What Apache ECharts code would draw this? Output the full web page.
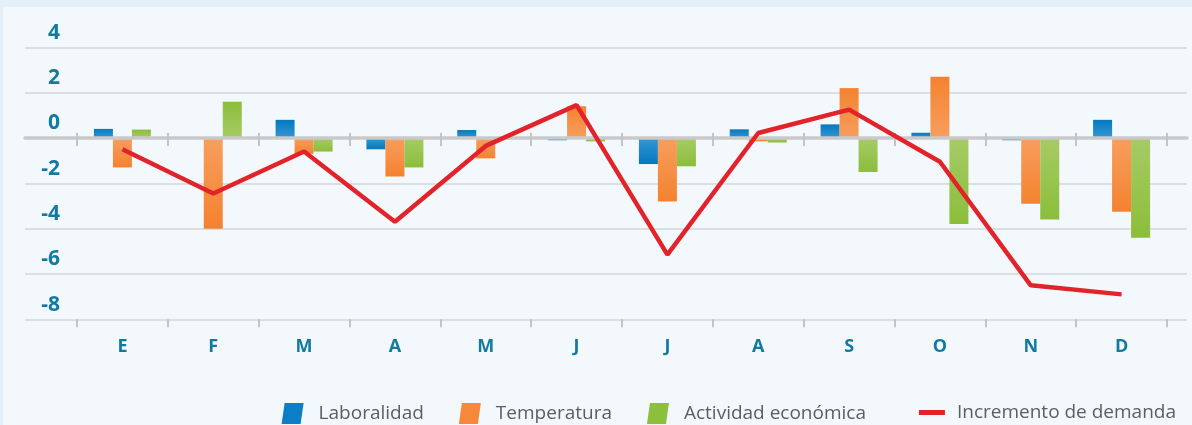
<!DOCTYPE html>
<html>
<head>
<meta charset="utf-8">
<script src="https://cdn.jsdelivr.net/npm/echarts@6/dist/echarts.min.js"></script>
<style>
  html, body { margin: 0; padding: 0; background: #e3eff9; }
  #chart { width: 1192px; height: 425px; }
</style>
</head>
<body>
<div id="chart"></div>
<script>
// datos
const months = ['E', 'F', 'M', 'A', 'M', 'J', 'J', 'A', 'S', 'O', 'N', 'D']
const laboralidad = [0.4, 0, 0.8, -0.5, 0.35, -0.1, -1.15, 0.38, 0.6, 0.23, -0.1, 0.8]
const temperatura = [-1.3, -4.0, -0.7, -1.7, -0.9, 1.4, -2.8, -0.15, 2.2, 2.7, -2.9, -3.25]
const actividad = [0.37, 1.6, -0.6, -1.3, 0, -0.15, -1.25, -0.2, -1.5, -3.8, -3.6, -4.4]
const demanda = [-0.5, -2.45, -0.6, -3.7, -0.35, 1.45, -5.15, 0.22, 1.25, -1.05, -6.5, -6.9]
const yTicks = { min: -8, max: 4, interval: 2 }

const labelBlue = '#117aa1'
const barIcon = 'path://M3,0 L22,0 L19,21 L0,21 Z'
const lineIcon = 'path://M0,0 L26,0 L26,5 L0,5 Z'
const legendText = { fontFamily: 'Open Sans', fontSize: 19, color: '#5e5e5e' }

// degradado: mas claro junto al cero, mas oscuro en el extremo
const grad = (v, light, dark) => {
  const stops = v >= 0
    ? [{ offset: 0, color: dark }, { offset: 1, color: light }]
    : [{ offset: 0, color: light }, { offset: 1, color: dark }]
  return new echarts.graphic.LinearGradient(0, 0, 0, 1, stops)
}
const barData = (arr, light, dark) => arr.map((v) => ({ value: v, itemStyle: { color: grad(v, light, dark) } }))

const chart = echarts.init(document.getElementById('chart'))
const option = {
  backgroundColor: '#e3eff9',
  animation: false,
  graphic: [
    { type: 'rect', left: 3, top: 7, shape: { width: 1189, height: 418 }, style: { fill: '#f3f8fc' }, z: -10 }
  ],
  legend: [
    {
      right: 321,
      top: 398,
      itemWidth: 22,
      itemHeight: 21,
      itemGap: 35,
      textStyle: { ...legendText, padding: [0, 0, 0, 10] },
      data: [
        { name: 'Laboralidad', icon: barIcon, itemStyle: { color: '#0a7fc6' } },
        { name: 'Temperatura', icon: barIcon, itemStyle: { color: '#f5883a' } },
        { name: 'Actividad económica', icon: barIcon, itemStyle: { color: '#8cbf3c' } }
      ]
    },
    {
      right: 11,
      top: 398,
      itemWidth: 26,
      itemHeight: 21,
      symbolKeepAspect: true,
      textStyle: { ...legendText, padding: [0, 0, 0, 7] },
      data: [
        { name: 'Incremento de demanda', icon: lineIcon, itemStyle: { color: '#e3232a' } }
      ]
    }
  ],
  grid: [
    { left: 25, right: 5, top: 47.3, bottom: 105.7 },
    { left: 77, right: 25, top: 47.3, bottom: 105.7 },
    { left: 77, right: 25, top: 133, height: 13 }
  ],
  xAxis: [
    {
      gridIndex: 0,
      type: 'category',
      data: months,
      z: 3,
      axisLine: { onZero: true, lineStyle: { color: '#c9c9c9', width: 3.5 } },
      axisTick: { show: false },
      axisLabel: { show: false }
    },
    {
      gridIndex: 1,
      type: 'category',
      data: months,
      position: 'bottom',
      axisLine: { show: false, onZero: false },
      axisTick: { show: true, length: 8, lineStyle: { color: '#c4c4c4', width: 2 } },
      axisLabel: { margin: 19, color: labelBlue, fontFamily: 'Open Sans', fontWeight: 'bold', fontSize: 18 }
    },
    {
      gridIndex: 2,
      type: 'category',
      data: months,
      z: 4,
      axisLine: { show: false },
      axisTick: { show: false },
      axisLabel: { show: false },
      splitLine: { show: true, lineStyle: { color: '#c4c4c4', width: 2 } }
    }
  ],
  yAxis: [
    {
      gridIndex: 0,
      type: 'value',
      min: yTicks.min,
      max: yTicks.max,
      interval: yTicks.interval,
      axisLine: { show: false },
      axisTick: { show: false },
      splitLine: { lineStyle: { color: '#d5d7d9', width: 1.5 } },
      axisLabel: {
        inside: true,
        margin: 35,
        align: 'right',
        verticalAlign: 'bottom',
        padding: [0, 0, 4, 0],
        color: labelBlue,
        fontFamily: 'Open Sans',
        fontWeight: 'bold',
        fontSize: 21
      }
    },
    {
      gridIndex: 1,
      type: 'value',
      min: yTicks.min,
      max: yTicks.max,
      interval: yTicks.interval,
      show: false
    },
    {
      gridIndex: 2,
      type: 'value',
      min: 0,
      max: 1,
      show: false
    }
  ],
  series: [
    {
      name: 'Laboralidad',
      type: 'bar',
      xAxisIndex: 1,
      yAxisIndex: 1,
      barWidth: 19,
      barGap: '0%',
      itemStyle: { color: '#0a7fc6' },
      data: barData(laboralidad, '#3497d6', '#0678be')
    },
    {
      name: 'Temperatura',
      type: 'bar',
      xAxisIndex: 1,
      yAxisIndex: 1,
      barWidth: 19,
      barGap: '0%',
      itemStyle: { color: '#f5883a' },
      data: barData(temperatura, '#f89e5e', '#f4822f')
    },
    {
      name: 'Actividad económica',
      type: 'bar',
      xAxisIndex: 1,
      yAxisIndex: 1,
      barWidth: 19,
      barGap: '0%',
      itemStyle: { color: '#8cbf3c' },
      data: barData(actividad, '#a6cb66', '#8bbe3a')
    },
    {
      name: 'Incremento de demanda',
      type: 'line',
      xAxisIndex: 1,
      yAxisIndex: 1,
      z: 5,
      symbol: 'none',
      itemStyle: { color: '#e3232a' },
      lineStyle: { color: '#e3232a', width: 4.5 },
      data: demanda
    }
  ]
}
chart.setOption(option)
</script>
</body>
</html>
